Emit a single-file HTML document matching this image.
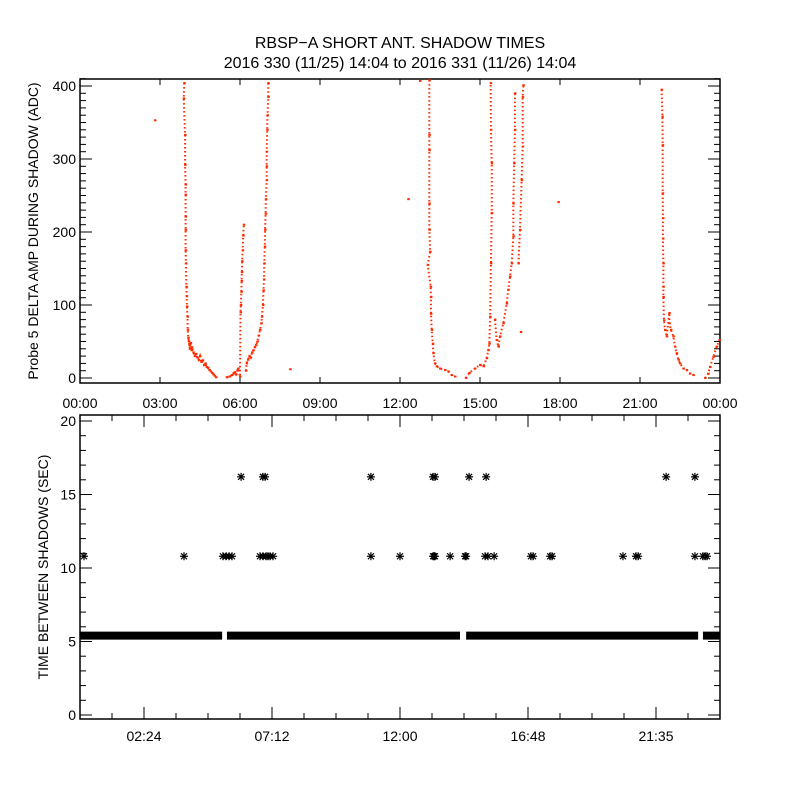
<!DOCTYPE html>
<html><head><meta charset="utf-8"><style>
body{margin:0;background:#fff}
svg{display:block;font-family:"Liberation Sans",sans-serif}
</style></head><body>
<svg id="c" width="800" height="800" viewBox="0 0 800 800">
<rect width="800" height="800" fill="#fff"/>
<text x="400" y="48" font-size="16" text-anchor="middle">RBSP−A SHORT ANT. SHADOW TIMES</text>
<text x="400" y="68" font-size="16" text-anchor="middle">2016 330 (11/25) 14:04 to 2016 331 (11/26) 14:04</text>
<g id="topPanel"></g>
<g id="botPanel"></g>
</svg>
<script>
// ---- top panel data (hours, ADC) ----
const topHours = [2.81,12.31,17.94,12.75,7.88,
3.91,3.89,3.94,3.94,3.96,3.96,3.96,3.96,3.96,3.97,3.99,4.0,4.01,4.03,4.04,4.06,4.08,4.1,4.12,4.15,4.18,4.2,4.25,4.3,4.35,4.4,4.45,4.5,4.55,4.6,4.65,4.7,4.75,4.8,4.85,4.9,4.95,5.0,5.05,5.1,
5.5,5.6,5.7,5.75,5.8,5.85,5.9,5.93,6.0,6.02,6.03,6.05,6.06,6.07,6.08,6.1,6.12,6.14,
6.22,6.25,6.3,6.35,6.4,6.45,6.5,6.55,6.6,6.65,6.7,6.75,6.8,6.82,6.86,6.88,6.9,6.91,6.93,6.94,6.96,6.97,7.0,7.0,7.0,7.02,7.03,7.06,7.06,
13.1,13.1,13.1,13.1,13.1,13.13,13.04,13.15,13.16,13.16,13.19,13.23,13.25,13.31,13.375,13.5,13.69,13.81,13.94,14.06,
14.47,14.6,14.81,15.0,15.13,15.25,15.31,15.35,15.38,15.41,15.44,15.44,15.41,15.4,
15.56,15.625,15.69,15.75,15.875,16.0,16.06,16.125,16.19,16.25,16.25,16.28,16.31,16.31,16.44,16.5,16.56,16.6,16.6,16.625,16.53,
21.81,21.84,21.85,21.85,21.86,21.86,21.875,21.875,21.875,21.9,21.94,22.0,22.1,22.1,22.16,22.25,22.31,22.375,22.44,22.5,22.625,22.75,22.875,23.0,
23.44,23.56,23.625,23.75,23.875,23.98];
const topValues = [353,245,241,407,12,
404,383,333,292,265,251,221,203,175,157,125,112,98,84,66,55,50,45,40,48,38,42,35,30,33,28,25,30,22,24,18,20,15,14,11,9,7,5,3,1,
1,2,4,6,8,5,10,13,2,90,100,118,133,145,160,175,195,210,
10,20,25,30,28,35,38,42,45,50,58,66,75,84,100,120,135,157,180,203,225,245,271,290,310,340,360,385,404,
408,333,312,239,203,173,155,125,111,88,66,47,34,20,16,13,11,9,4,2,
0,7,13,18,16,27,38,47,84,157,226,294,340,404,
80,52,43,57,75,102,121,139,157,194,239,294,340,390,157,203,271,317,385,401,63,
395,358,319,253,219,191,157,125,111,79,66,57,89,75,66,57,43,34,25,20,13,11,6,4,
0,6,15,29,43,52];
const topCurveStarts = [5,45,63,92,112,126,140,146,147,171,177];
const topYTicks = [0,100,200,300,400];
const topXTickLabels = ["00:00","03:00","06:00","09:00","12:00","15:00","18:00","21:00","00:00"];
// ---- bottom panel data (hours, seconds) ----
const star108Hours = [0.15,3.9,5.36,5.48,5.59,5.7,6.75,6.86,6.98,7.05,7.13,7.24,10.91,12.0,13.24,13.28,13.31,13.88,14.44,14.48,15.19,15.3,15.53,16.91,16.99,17.63,17.7,20.36,20.85,20.93,23.06,23.36,23.44,23.51];
const star162Hours = [6.04,6.86,6.94,10.91,13.24,13.31,14.59,15.23,21.98,23.06];
const starLevels = [10.8,16.2];
const bandStart = [0,5.51,14.48,23.36];
const bandEnd = [5.33,14.25,23.18,24];
const bandLevel = 5.4;
const botYTicks = [0,5,10,15,20];
const botXTickLabels = ["02:24","07:12","12:00","16:48","21:35"];

const NS="http://www.w3.org/2000/svg";
function mk(parent,tag,attrs){const e=document.createElementNS(NS,tag);for(const k in attrs)e.setAttribute(k,attrs[k]);parent.appendChild(e);return e;}

// Top scales
const TL=80,TR=720,TT=79,TB=383;
const tx=h=>TL+(TR-TL)*h/24;
const ty=v=>378-v*0.73;
const topG=document.getElementById('topPanel');
const tf=mk(topG,'rect',{x:TL,y:TT,width:TR-TL,height:TB-TT,fill:'none',stroke:'#000','stroke-width':1.5});


for(let v=0;v<=410;v+=10){
  const major=v%100===0;
  const len=major?12:6;
  mk(topG,'line',{x1:TL,x2:TL+len,y1:ty(v),y2:ty(v),stroke:'#000'});
  mk(topG,'line',{x1:TR,x2:TR-len,y1:ty(v),y2:ty(v),stroke:'#000'});
}
topYTicks.forEach(v=>{
  const t=mk(topG,'text',{x:TL-4,y:ty(v)+5,'font-size':14,'text-anchor':'end'});
  t.textContent=v;
  
  
});
topXTickLabels.forEach((s,i)=>{
  const x=tx(i*3);
  mk(topG,'line',{x1:x,x2:x,y1:TB,y2:TB-6,stroke:'#000'});
  mk(topG,'line',{x1:x,x2:x,y1:TT,y2:TT+6,stroke:'#000'});
  const t=mk(topG,'text',{x:x,y:TB+25,'font-size':14,'text-anchor':'middle'});
  t.textContent=s;
  
  
});
const ta=mk(topG,'text',{x:0,y:0,'font-size':14,'text-anchor':'middle',transform:'translate(38,231) rotate(-90)'});
ta.textContent='Probe 5 DELTA AMP DURING SHADOW (ADC)';


for(let c=0;c<topCurveStarts.length;c++){
  const s=topCurveStarts[c],e=c+1<topCurveStarts.length?topCurveStarts[c+1]:topHours.length;
  let pts=[];for(let i=s;i<e;i++)pts.push(tx(topHours[i])+','+ty(Math.min(topValues[i],410)));
  const pl=mk(topG,'polyline',{points:pts.join(' '),fill:'none',stroke:'#ff2a00','stroke-width':2,'stroke-dasharray':'1.5 2.5'});
  
  
}
for(let i=0;i<topHours.length;i++){
  const r=mk(topG,'rect',{x:tx(topHours[i])-1,y:ty(Math.min(topValues[i],410))-1,width:2.5,height:2,fill:'#ff2a00'});
  
  
}

// Bottom scales
const BL=80,BR=720,BT=415,BB=719;
const bx=h=>BL+(BR-BL)*h/24;
const by=v=>715-v*14.7;
const botG=document.getElementById('botPanel');
const bf=mk(botG,'rect',{x:BL,y:BT,width:BR-BL,height:BB-BT,fill:'none',stroke:'#000','stroke-width':1.5});


for(let v=0;v<=20;v++){
  const major=v%5===0;const len=major?12:6;
  mk(botG,'line',{x1:BL,x2:BL+len,y1:by(v),y2:by(v),stroke:'#000'});
  mk(botG,'line',{x1:BR,x2:BR-len,y1:by(v),y2:by(v),stroke:'#000'});
}
botYTicks.forEach(v=>{
  const t=mk(botG,'text',{x:BL-4,y:by(v)+5,'font-size':14,'text-anchor':'end'});
  t.textContent=v;
  
  
});
for(let k=1;k<20;k++){
  const x=bx(k*1.2);const major=(k-2)%4===0;const len=major?12:6;
  mk(botG,'line',{x1:x,x2:x,y1:BB,y2:BB-len,stroke:'#000'});
  mk(botG,'line',{x1:x,x2:x,y1:BT,y2:BT+len,stroke:'#000'});
}
botXTickLabels.forEach((s,i)=>{
  const t=mk(botG,'text',{x:bx(2.4+4.8*i),y:BB+22,'font-size':14,'text-anchor':'middle'});
  t.textContent=s;
  
  
});
const ba=mk(botG,'text',{x:0,y:0,'font-size':14,'text-anchor':'middle',transform:'translate(48,567) rotate(-90)'});
ba.textContent='TIME BETWEEN SHADOWS (SEC)';


for(let i=0;i<bandStart.length;i++){
  const r=mk(botG,'rect',{x:bx(bandStart[i]),y:by(bandLevel)-4,width:bx(bandEnd[i])-bx(bandStart[i]),height:8,fill:'#000'});
  
  
}
function star(h,v){
  const x=bx(h),y=by(v);
  const g=mk(botG,'g',{stroke:'#000','stroke-width':1.2});
  
  
  mk(g,'line',{x1:x-4,x2:x+4,y1:y,y2:y});
  mk(g,'line',{x1:x,x2:x,y1:y-4,y2:y+4});
  mk(g,'line',{x1:x-3,x2:x+3,y1:y-3,y2:y+3});
  mk(g,'line',{x1:x-3,x2:x+3,y1:y+3,y2:y-3});
}
star108Hours.forEach(h=>star(h,starLevels[0]));
star162Hours.forEach(h=>star(h,starLevels[1]));
</script>
</body></html>
